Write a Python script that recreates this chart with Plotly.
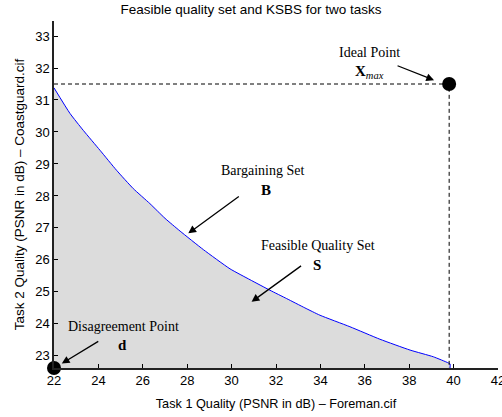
import plotly.graph_objects as go

# Bargaining set (Pareto frontier)
task1_psnr = [22.0, 22.72, 23.32, 24.07, 24.82, 25.57, 26.32, 27.0, 27.68, 28.73, 29.93,
              30.83, 31.73, 32.48, 33.3, 33.98, 35.33, 36.68, 38.04, 39.09, 39.76, 39.84]
task2_psnr = [31.38, 30.58, 30.05, 29.43, 28.80, 28.23, 27.76, 27.3, 26.9, 26.32, 25.72,
              25.38, 25.05, 24.79, 24.5, 24.27, 23.91, 23.52, 23.18, 22.97, 22.78, 22.75]

disagreement = [22.0, 22.62]   # d
ideal = [39.8, 31.5]           # X_max

x_ticks = [22, 24, 26, 28, 30, 32, 34, 36, 38, 40, 42]
y_ticks = [23, 24, 25, 26, 27, 28, 29, 30, 31, 32, 33]

fig = go.Figure()

# Feasible set fill + bargaining set boundary
curve_x = task1_psnr + [task1_psnr[-1]]
curve_y = task2_psnr + [disagreement[1]]
fig.add_trace(go.Scatter(x=curve_x, y=curve_y, mode="lines", fill="tozeroy",
                         fillcolor="#dcdcdc",
                         line=dict(color="#0000ff", width=1, shape="spline", smoothing=0.5),
                         hoverinfo="skip"))

# Dashed lines to the ideal point
fig.add_trace(go.Scatter(x=[disagreement[0], ideal[0], ideal[0]],
                         y=[ideal[1], ideal[1], disagreement[1]], mode="lines",
                         line=dict(color="black", width=1, dash="4px,3px"),
                         hoverinfo="skip"))

# Points
fig.add_trace(go.Scatter(x=[disagreement[0], ideal[0]], y=[disagreement[1], ideal[1]],
                         mode="markers", marker=dict(color="black", size=14),
                         cliponaxis=False, hoverinfo="skip"))

serif = dict(family="Liberation Serif, Times New Roman, serif", size=14, color="black")
serif_b = dict(family="Liberation Serif, Times New Roman, serif", size=15, color="black")

texts = [
    (36.23, 32.49, "Ideal Point", serif),
    (36.21, 31.88, "<b>X</b><sub><i>max</i></sub>", serif_b),
    (31.37, 28.80, "Bargaining Set", serif),
    (31.55, 28.18, "<b>B</b>", serif_b),
    (33.88, 26.46, "Feasible Quality Set", serif),
    (33.85, 25.83, "<b>S</b>", serif_b),
    (25.11, 23.93, "Disagreement Point", serif),
    (25.09, 23.33, "<b>d</b>", serif_b),
]
for x, y, t, f in texts:
    fig.add_annotation(x=x, y=y, text=t, showarrow=False, font=f,
                       xanchor="center", yanchor="middle")

arrows = [
    (39.12, 31.62, -38, -15),
    (28.05, 26.83, 52, -38),
    (30.9, 24.69, 51, -37),
    (22.35, 22.76, 38, -23),
]
for x, y, ax, ay in arrows:
    fig.add_annotation(x=x, y=y, ax=ax, ay=ay, text="", showarrow=True,
                       arrowhead=2, arrowsize=1.2, arrowwidth=1.3, arrowcolor="black")

fig.update_layout(
    width=502, height=417,
    margin=dict(l=54, r=4, t=21, b=49),
    paper_bgcolor="white", plot_bgcolor="white",
    showlegend=False,
    font=dict(family="Liberation Sans, Arial, sans-serif", size=13, color="black"),
    title=dict(text="Feasible quality set and KSBS for two tasks", x=0.5, xanchor="center",
               y=0.99, yanchor="top", font=dict(size=13.5)),
)
fig.update_xaxes(range=[22, 42], tickvals=x_ticks, ticks="inside", ticklen=4,
                 tickcolor="black", showline=True, linecolor="#222", linewidth=1.5,
                 showgrid=False, zeroline=False, ticklabeloverflow="allow",
                 automargin=False,
                 title=dict(text="Task 1 Quality (PSNR in dB) – Foreman.cif", font=dict(size=12.7),
                            standoff=12))
fig.update_yaxes(range=[22.62, 33.47], tickvals=y_ticks, ticks="inside", ticklen=4,
                 tickcolor="black", showline=True, linecolor="#222", linewidth=1.5,
                 showgrid=False, zeroline=False, automargin=False,
                 title=dict(text="Task 2 Quality (PSNR in dB) – Coastguard.cif", font=dict(size=13.5),
                            standoff=7))

fig.write_html("out.html")
